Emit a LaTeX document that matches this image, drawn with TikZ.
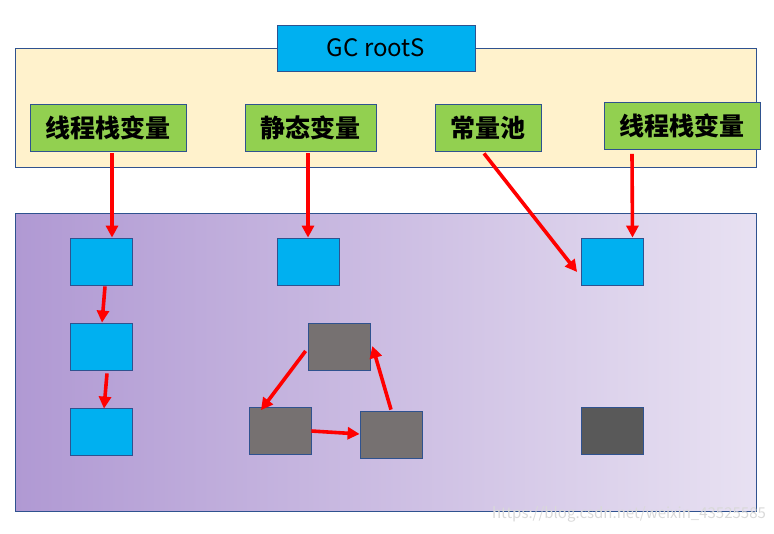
\documentclass[tikz,border=0pt]{standalone}
\usepackage{fontspec}
\setmainfont{Noto Sans CJK SC}
\usepackage{tikz}
\usetikzlibrary{arrows.meta}

\definecolor{frameblue}{RGB}{47,82,143}
\definecolor{cream}{RGB}{255,242,204}
\definecolor{skyblue}{RGB}{0,176,240}
\definecolor{leafgreen}{RGB}{146,208,80}
\definecolor{stonegray}{RGB}{118,113,113}
\definecolor{darkgray}{RGB}{89,89,89}
\definecolor{lilacleft}{RGB}{176,153,211}
\definecolor{lilacright}{RGB}{232,225,242}

\begin{document}
\begin{tikzpicture}[x=1pt, y=-1pt,
    box/.style={draw=frameblue, line width=0.8pt, inner sep=0pt},
    root/.style={box, fill=leafgreen, minimum height=47pt, font=\fontsize{25}{25}\selectfont\bfseries},
    obj/.style={box, minimum width=62pt, minimum height=47pt},
    live/.style={obj, fill=skyblue},
    dead/.style={obj, fill=stonegray},
    ref/.style={red, line width=3.6pt, -{Triangle[length=12pt, width=12pt]}}]
    \useasboundingbox (0,0) rectangle (774,533);

    % 1. The two areas
    \draw[frameblue, line width=0.8pt, fill=cream] (15,48) rectangle (756,167);
    \draw[frameblue, line width=0.8pt, left color=lilacleft, right color=lilacright] (15,213) rectangle (756,511);

    % 2. Title box
    \node[box, fill=skyblue, minimum width=198pt, minimum height=46pt,
          font=\fontsize{24}{24}\selectfont] (gc) at (376,48) {GC rootS};

    % 3. The GC roots
    \node[root, minimum width=156pt] (stackA) at (108,127.5) {线程栈变量};
    \node[root, minimum width=131pt] (static) at (310.5,127.5) {静态变量};
    \node[root, minimum width=106pt] (pool) at (488,127.5) {常量池};
    \node[root, minimum width=156pt] (stackB) at (682,126) {线程栈变量};

    % 4. Reachable objects
    \node[live] (a1) at (101,261.5) {};
    \node[live] (a2) at (101,346.5) {};
    \node[live] (a3) at (101,431.5) {};
    \node[live] (b) at (308,261.5) {};
    \node[live] (c) at (612.5,261.5) {};

    % 5. Unreachable objects
    \node[dead] (d1) at (339,346.5) {};
    \node[dead] (d2) at (280,431) {};
    \node[dead] (d3) at (391,434.5) {};
    \node[obj, fill=darkgray] (e) at (612.5,430.5) {};

    % 6. References from the roots
    \draw[ref] ([xshift=4pt, yshift=-2pt]stackA.south) -- ([xshift=11pt]a1.north);
    \draw[ref] ([xshift=-2.5pt, yshift=-2pt]static.south) -- (b.north);
    \draw[ref] ([xshift=-4pt, yshift=-2pt]pool.south) -- ([xshift=-4pt, yshift=-10.5pt]c.west);
    \draw[ref] ([xshift=-50pt, yshift=-4pt]stackB.south) -- ([xshift=20pt]c.north);

    % 7. References between objects
    \draw[ref] ([xshift=4pt, yshift=-1pt]a1.south) -- ([xshift=1pt]a2.north);
    \draw[ref] ([xshift=6pt, yshift=-3pt]a2.south) -- ([xshift=3pt, yshift=-1pt]a3.north);
    \draw[ref] ([xshift=-2pt, yshift=-4.5pt]d1.west) -- ([xshift=-19pt, yshift=-3pt]d2.north);
    \draw[ref] (d2.east) -- ([yshift=0.5pt]d3.west);
    \draw[ref] ([yshift=1pt]d3.north) -- ([xshift=2pt, yshift=0.5pt]d1.east);

    % Watermark
    \node[gray!30, font=\fontsize{15}{15}\selectfont] (mark) at (629,514) {https://blog.csdn.net/weixin\_43525585};
\end{tikzpicture}
\end{document}
